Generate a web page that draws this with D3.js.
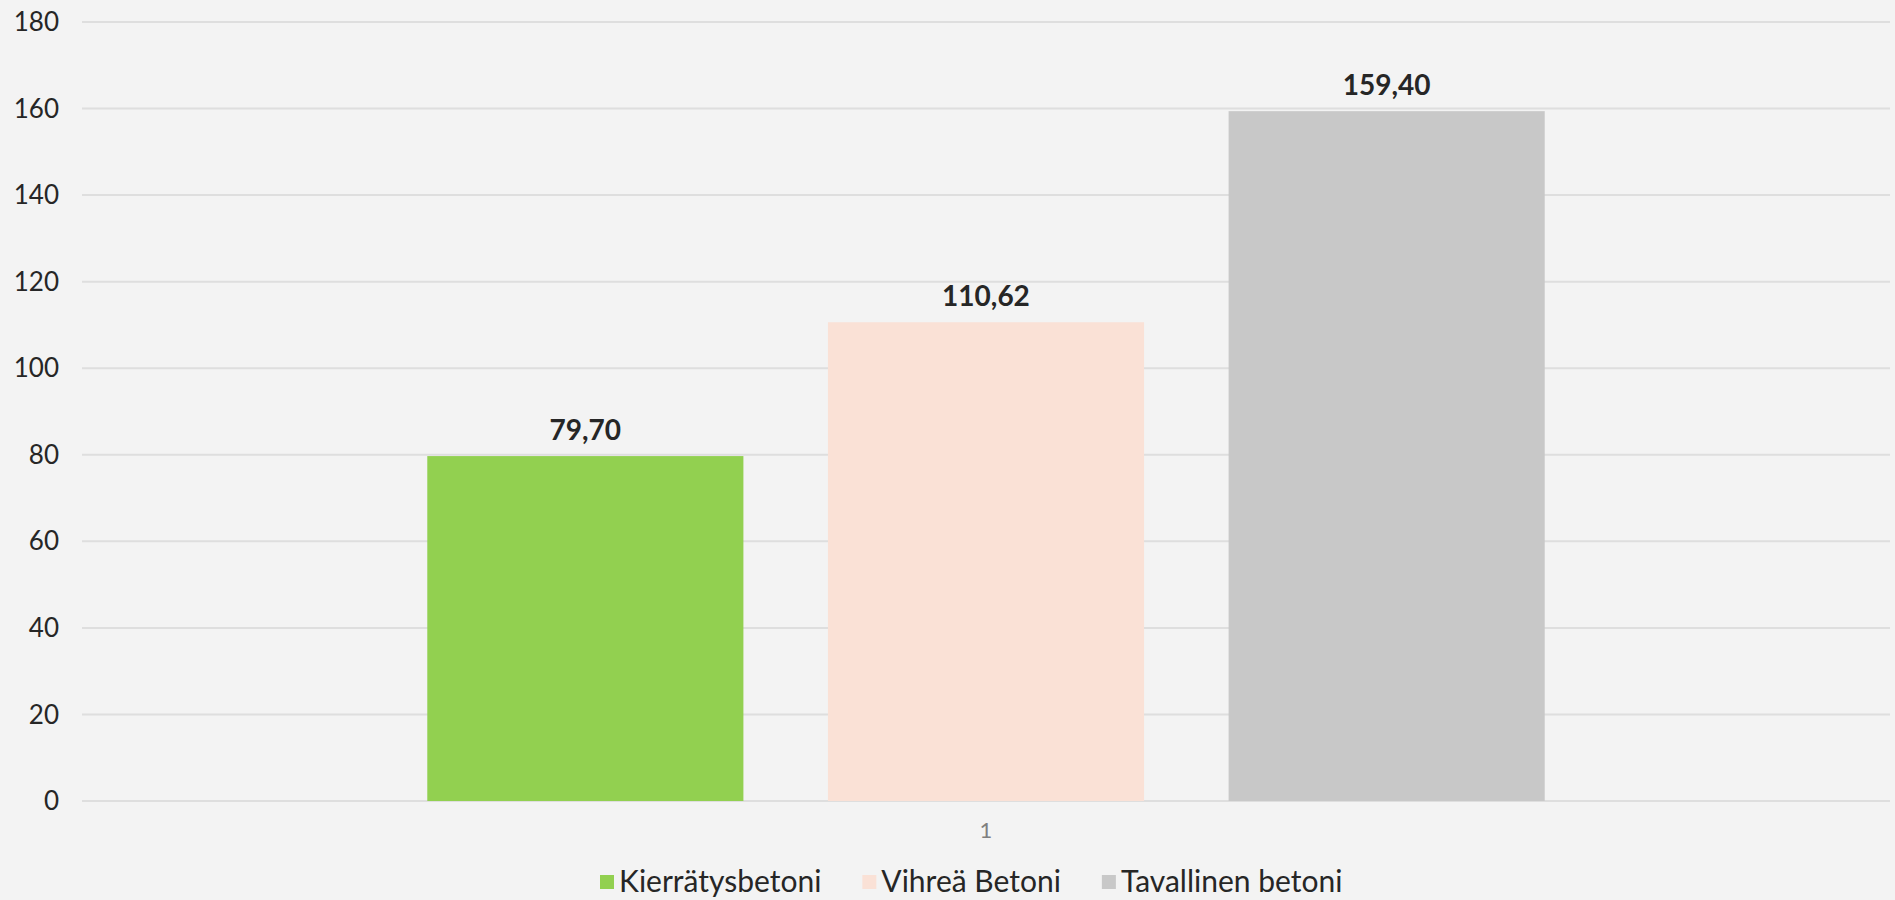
<!DOCTYPE html>
<html>
<head>
<meta charset="utf-8">
<script src="https://cdn.jsdelivr.net/npm/d3@7"></script>
<style>
  html, body { margin: 0; padding: 0; background: #f3f3f3; }
  svg { display: block; font-family: "Lato", "Noto Sans", sans-serif; }
</style>
</head>
<body>
<div id="chart"></div>
<script>
// Data
const categories = ["1"];
const seriesNames = ["Kierrätysbetoni", "Vihreä Betoni", "Tavallinen betoni"];
const seriesValues = [79.70, 110.62, 159.40];
const seriesColors = ["#92d050", "#fae1d6", "#c8c8c8"];
const yTicks = [0, 20, 40, 60, 80, 100, 120, 140, 160, 180];

const width = 1895;
const height = 900;
const margin = { top: 22, right: 5, bottom: 99, left: 82 };

const svg = d3.select("#chart")
  .append("svg")
    .attr("width", width)
    .attr("height", height);

svg.append("rect")
  .attr("width", width)
  .attr("height", height)
  .attr("fill", "#f3f3f3");

const y = d3.scaleLinear()
  .domain([0, 180])
  .range([height - margin.bottom, margin.top]);

// Outer band for the single category, inner band for series
const x0 = d3.scaleBand()
  .domain(categories)
  .range([margin.left, width - margin.right])
  .paddingOuter(0.309);

const x1 = d3.scaleBand()
  .domain(seriesNames)
  .range([0, x0.bandwidth()])
  .paddingInner(0.211);

// Gridlines
svg.append("g")
  .selectAll("line")
  .data(yTicks)
  .join("line")
    .attr("x1", margin.left)
    .attr("x2", width - margin.right)
    .attr("y1", d => y(d))
    .attr("y2", d => y(d))
    .attr("stroke", "#dedede")
    .attr("stroke-width", 2);

// Y axis labels
svg.append("g")
  .selectAll("text")
  .data(yTicks)
  .join("text")
    .attr("x", 59)
    .attr("y", d => y(d))
    .attr("dy", "0.35em")
    .attr("text-anchor", "end")
    .attr("fill", "#262626")
    .style("font-size", "26px")
    .text(d => d);

const rows = seriesNames.map((name, i) => ({ name, value: seriesValues[i], color: seriesColors[i], cat: categories[0] }));

// Bars
svg.append("g")
  .selectAll("rect")
  .data(rows)
  .join("rect")
    .attr("x", d => x0(d.cat) + x1(d.name))
    .attr("y", d => y(d.value))
    .attr("width", x1.bandwidth())
    .attr("height", d => y(0) - y(d.value))
    .attr("fill", d => d.color);

// Value labels
svg.append("g")
  .selectAll("text")
  .data(rows)
  .join("text")
    .attr("x", d => x0(d.cat) + x1(d.name) + x1.bandwidth() / 2)
    .attr("y", d => y(d.value) - 16)
    .attr("text-anchor", "middle")
    .attr("fill", "#262626")
    .style("font-size", "28px")
    .style("font-weight", 700)
    .text(d => d3.format(".2f")(d.value).replace(".", ","));

// Category label
svg.append("text")
  .attr("x", x0(categories[0]) + x0.bandwidth() / 2)
  .attr("y", 838)
  .attr("text-anchor", "middle")
  .attr("fill", "#7f7f7f")
  .style("font-size", "22px")
  .text(categories[0]);

// Legend, laid out left to right from measured text widths
const legend = svg.append("g");
let lx = 600;
rows.forEach(d => {
  legend.append("rect")
    .attr("x", lx)
    .attr("y", 875)
    .attr("width", 14)
    .attr("height", 14)
    .attr("fill", d.color);
  const t = legend.append("text")
    .attr("x", lx + 19)
    .attr("y", 892)
    .attr("fill", "#262626")
    .style("font-size", "30px")
    .text(d.name);
  lx += 19 + t.node().getComputedTextLength() + 41;
});
</script>
</body>
</html>
